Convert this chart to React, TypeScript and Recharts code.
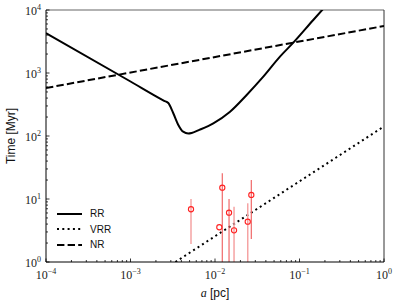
import React from "react";
import {
  ComposedChart,
  Line,
  Scatter,
  XAxis,
  YAxis,
  ErrorBar,
  ReferenceLine,
  Label,
} from "recharts";

// decades shown on the axes (powers of ten)
const xDecades = [-4, -3, -2, -1, 0];
const yDecades = [0, 1, 2, 3, 4];

// RR curve
const rrA = [1e-4, 1e-3, 0.0025, 0.0028, 0.0032, 0.00368, 0.0042, 0.00483, 0.0053, 0.0066, 0.00955, 0.01507, 0.0237, 0.0373, 0.0587, 0.0845, 0.1455, 0.2];
const rrT = [4300, 733, 362, 334, 232, 150, 117, 110, 112, 126, 159, 243, 448, 873, 1815, 3027, 6935, 11200];

// VRR and NR are straight in log-log
const vrrA = [0.0034, 1];
const vrrT = [1, 142];
const nrA = [1e-4, 1];
const nrT = [578, 5570];

// observed sources with error bars
const srcA = [0.0052, 0.0122, 0.01125, 0.01466, 0.0168, 0.0244, 0.0269];
const srcT = [6.87, 15.1, 3.56, 6.06, 3.18, 4.36, 11.6];
const srcLo = [1.93, 1, 3.56, 1, 1, 1, 2.32];
const srcHi = [10.0, 25.6, 3.56, 10.0, 7.55, 8.55, 20.0];
const srcFaint = [true, false, false, false, true, true, false];

const W = 398;
const H = 304;

const toRows = (a: number[], t: number[]) => a.map((v, i) => ({ a: v, t: t[i] }));

const rrData = toRows(rrA, rrT);
const vrrData = toRows(vrrA, vrrT);
const nrData = toRows(nrA, nrT);

const srcRows = srcA.map((a, i) => ({
  a,
  t: srcT[i],
  err: [srcT[i] - srcLo[i], srcHi[i] - srcT[i]],
  faint: srcFaint[i],
}));
const faintRows = srcRows.filter((r, i) => srcFaint[i] && srcHi[i] > srcT[i]);
const strongRows = srcRows.filter((r, i) => !srcFaint[i] && srcHi[i] > srcT[i]);

const withMinors = (decades: number[]) => {
  const out: number[] = [];
  decades.forEach((e, i) => {
    if (i === decades.length - 1) {
      out.push(Math.pow(10, e));
      return;
    }
    for (let m = 1; m <= 9; m++) out.push(m * Math.pow(10, e));
  });
  return out;
};

const xTicks = withMinors(xDecades);
const yTicks = withMinors(yDecades);

const serif = "'Liberation Serif', 'DejaVu Serif', serif";
const sans = "'Liberation Sans', 'DejaVu Sans', sans-serif";

const expOf = (v: number) => {
  const e = Math.log10(v);
  return Math.abs(e - Math.round(e)) < 1e-6 ? Math.round(e) : null;
};
const supText = (e: number) => (e < 0 ? "\u2212" + Math.abs(e) : String(e));

const XTick = (props: any) => {
  const { x, y, payload } = props;
  const e = expOf(payload.value);
  return (
    <g>
      <line x1={x} x2={x} y1={y} y2={y - (e !== null ? 3.5 : 2)} stroke="#000" strokeWidth={0.8} />
      {e !== null && (
        <text x={x} y={y + 17} textAnchor="middle" fontFamily={serif} fontSize={12} fill="#222">
          10
          <tspan dy={-5} fontSize={8}>
            {supText(e)}
          </tspan>
        </text>
      )}
    </g>
  );
};

const YTick = (props: any) => {
  const { x, y, payload } = props;
  const e = expOf(payload.value);
  return (
    <g>
      <line x1={x} x2={x + (e !== null ? 3.5 : 2)} y1={y} y2={y} stroke="#000" strokeWidth={0.8} />
      {e !== null && (
        <text x={x - 5} y={y + 4.5} textAnchor="end" fontFamily={serif} fontSize={12} fill="#222">
          10
          <tspan dy={-5} fontSize={8}>
            {supText(e)}
          </tspan>
        </text>
      )}
    </g>
  );
};

const YTitle = (props: any) => {
  const vb = props.viewBox;
  const cx = vb.x + 11;
  const cy = vb.y + vb.height / 2;
  return (
    <text
      x={cx}
      y={cy}
      transform={`rotate(-90, ${cx}, ${cy})`}
      textAnchor="middle"
      dominantBaseline="central"
      fontFamily={sans}
      fontSize={12}
      fill="#111"
    >
      Time [Myr]
    </text>
  );
};

const XTitle = (props: any) => {
  const vb = props.viewBox;
  const cx = vb.x + vb.width / 2;
  return (
    <text x={cx} y={vb.y + 35} textAnchor="middle" fontSize={12} fill="#111">
      <tspan fontFamily={serif} fontStyle="italic">a</tspan>
      <tspan fontFamily={sans}> [pc]</tspan>
    </text>
  );
};

const legendItems = [
  { name: "RR", dash: undefined },
  { name: "VRR", dash: "2 3.3" },
  { name: "NR", dash: "7.4 3.2" },
];

const noShape = () => <g />;
const ring = (p: any) => (
  <circle cx={p.cx} cy={p.cy} r={2.6} fill="none" stroke="#f22" strokeWidth={1.1} />
);

export default function App() {
  return (
    <div style={{ position: "absolute", left: 0, top: 0, width: W, height: H, background: "#fff" }}>
      <ComposedChart width={W} height={H} margin={{ top: 10, right: 14, bottom: 0, left: 0 }}>
        <XAxis
          type="number"
          dataKey="a"
          scale="log"
          domain={[1e-4, 1]}
          allowDataOverflow
          ticks={xTicks}
          interval={0}
          tickSize={0}
          tickMargin={0}
          tick={<XTick />}
          height={42}
          stroke="#000"
        >
          <Label content={<XTitle />} />
        </XAxis>
        <YAxis
          type="number"
          dataKey="t"
          scale="log"
          domain={[1, 1e4]}
          allowDataOverflow
          ticks={yTicks}
          interval={0}
          tickSize={0}
          tickMargin={0}
          tick={<YTick />}
          width={46}
          stroke="#000"
        >
          <Label content={<YTitle />} />
        </YAxis>
        <ReferenceLine y={1e4} stroke="#999" strokeWidth={1.5} />
        <ReferenceLine x={1} stroke="#333" strokeWidth={1} />
        <Line data={nrData} dataKey="t" type="linear" stroke="#000" strokeWidth={2} strokeDasharray="7.4 3.2" dot={false} isAnimationActive={false} />
        <Line data={vrrData} dataKey="t" type="linear" stroke="#000" strokeWidth={2} strokeDasharray="2 3.3" dot={false} isAnimationActive={false} />
        <Line data={rrData} dataKey="t" type="monotone" stroke="#000" strokeWidth={2} dot={false} isAnimationActive={false} />
        <Scatter data={faintRows} dataKey="t" shape={noShape} isAnimationActive={false}>
          <ErrorBar dataKey="err" direction="y" width={0} stroke="#f5a3a3" strokeWidth={1.5} />
        </Scatter>
        <Scatter data={strongRows} dataKey="t" shape={noShape} isAnimationActive={false}>
          <ErrorBar dataKey="err" direction="y" width={0} stroke="#f06868" strokeWidth={1.2} />
        </Scatter>
        <Scatter data={srcRows} dataKey="t" shape={ring} isAnimationActive={false} />
      </ComposedChart>
      <div style={{ position: "absolute", left: 57, top: 206, fontFamily: sans, fontSize: 10, color: "#111" }}>
        {legendItems.map((it) => (
          <div key={it.name} style={{ display: "flex", alignItems: "center", height: 15.5 }}>
            <svg width={25} height={6} style={{ display: "block" }}>
              <line x1={0} x2={25} y1={3} y2={3} stroke="#000" strokeWidth={2} strokeDasharray={it.dash} />
            </svg>
            <span style={{ marginLeft: 8 }}>{it.name}</span>
          </div>
        ))}
      </div>
    </div>
  );
}
